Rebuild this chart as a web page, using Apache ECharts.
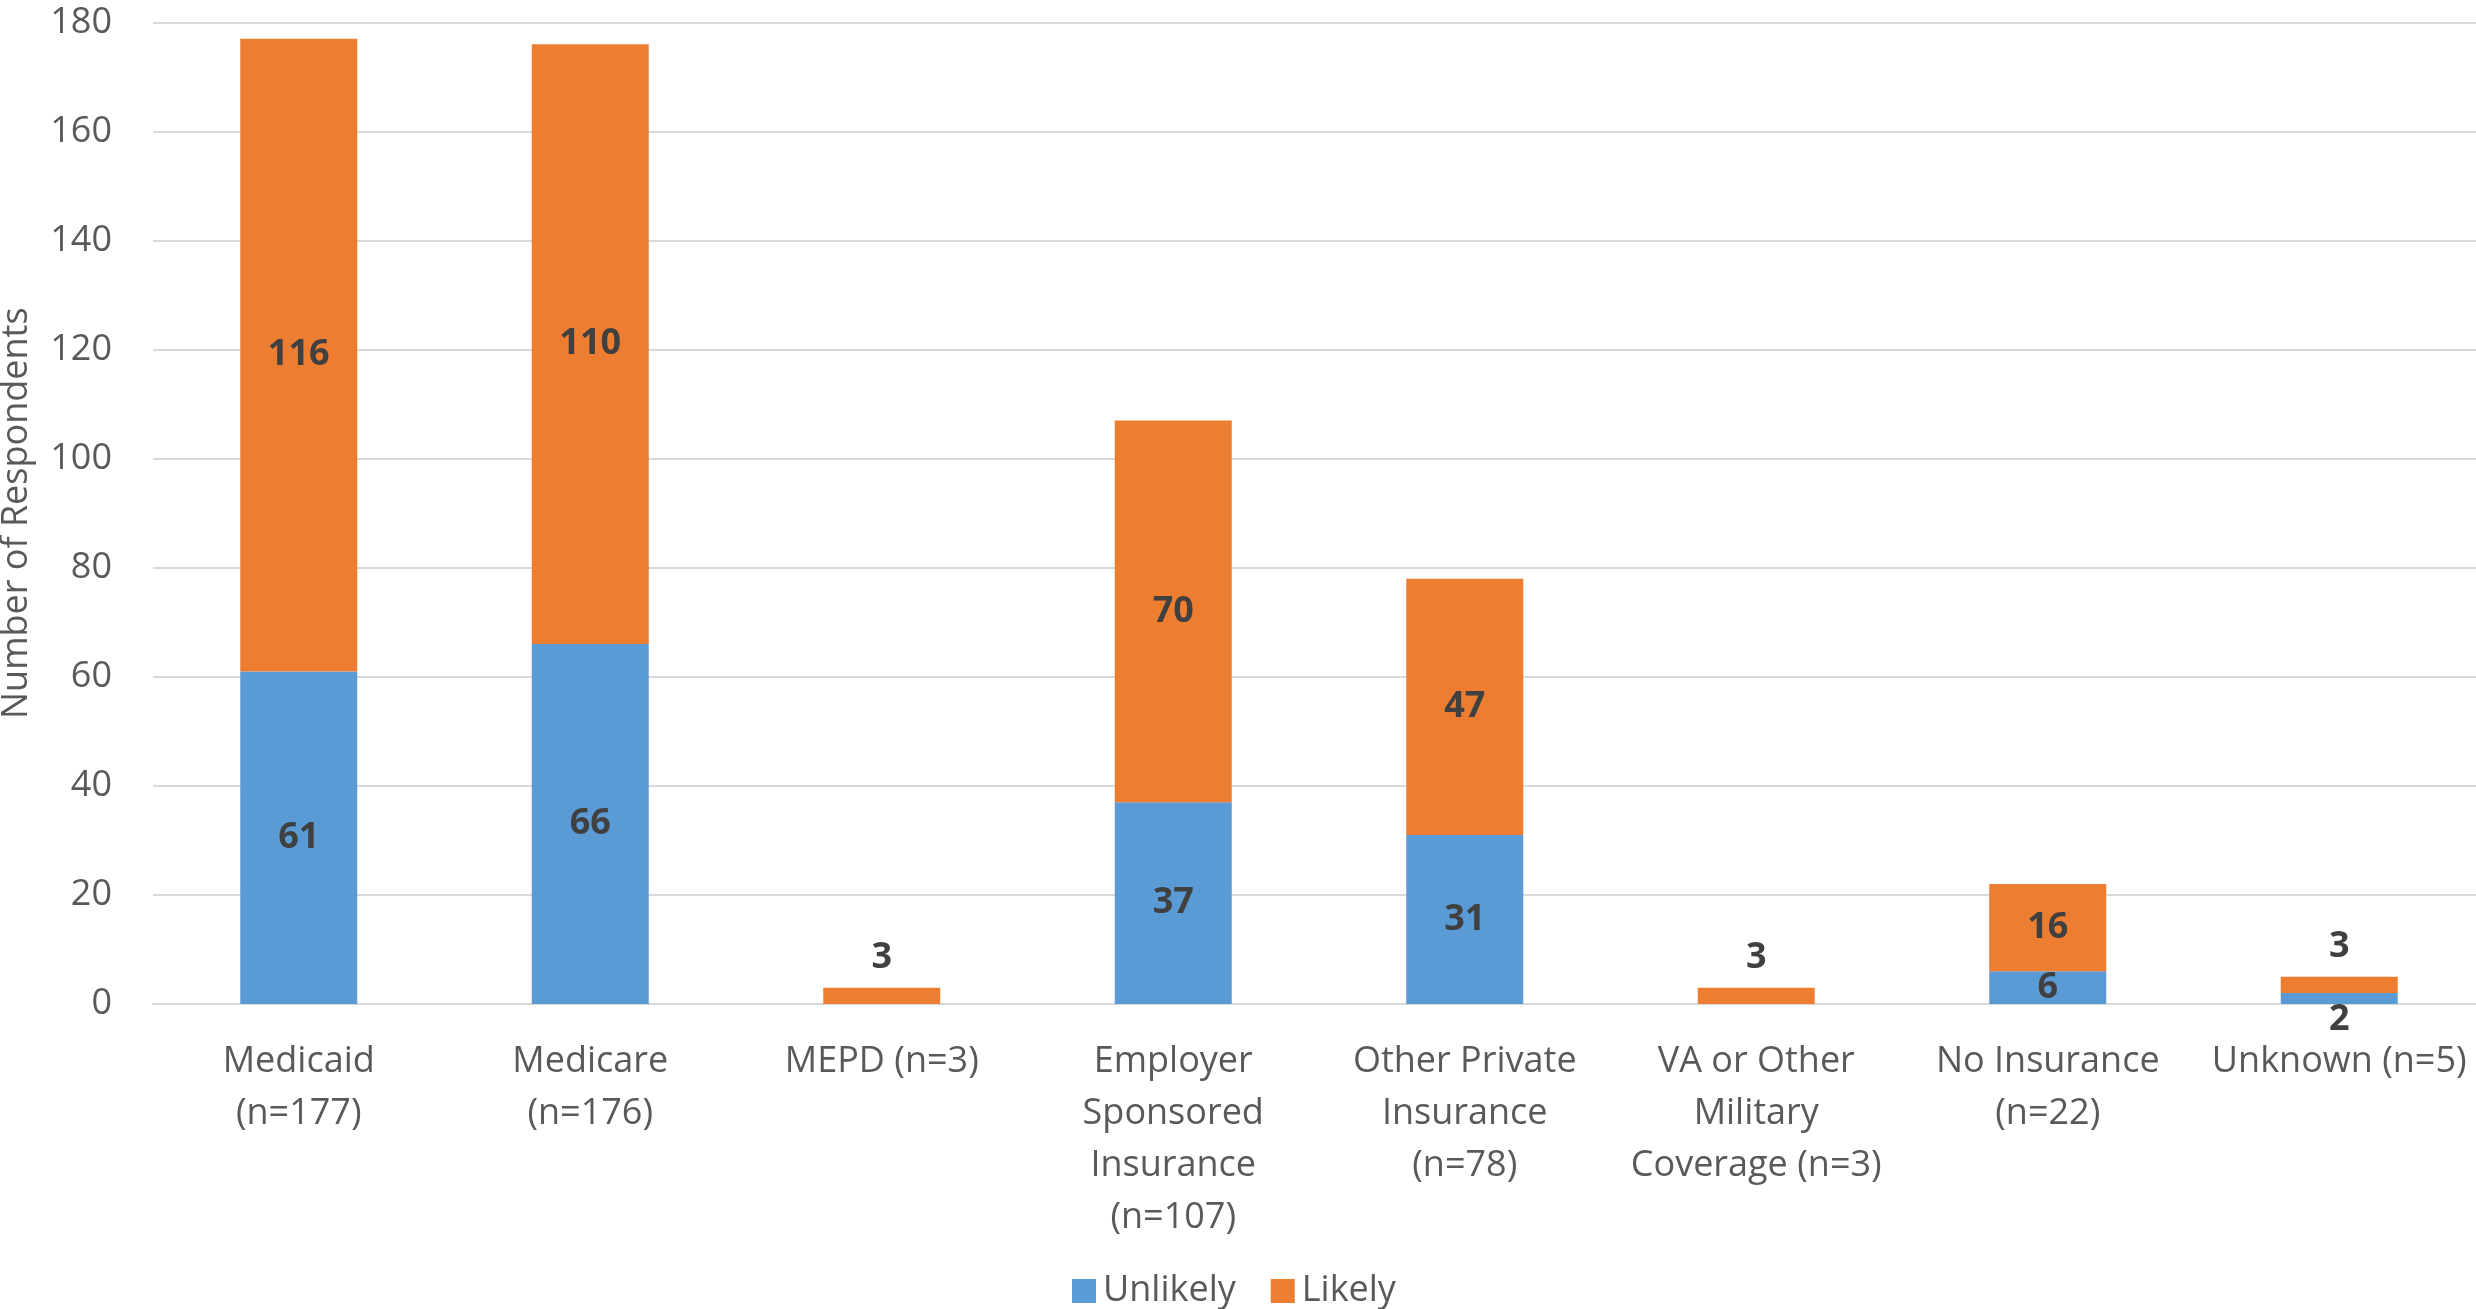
<!DOCTYPE html>
<html>
<head>
<meta charset="utf-8">
<script src="https://cdn.jsdelivr.net/npm/echarts@6/dist/echarts.min.js"></script>
<style>
html,body{margin:0;padding:0;background:#fff;}
#chart{width:2476px;height:1309px;}
</style>
</head>
<body>
<div id="chart"></div>
<script>
const categories = [
  "Medicaid\n(n=177)",
  "Medicare\n(n=176)",
  "MEPD (n=3)",
  "Employer\nSponsored\nInsurance\n(n=107)",
  "Other Private\nInsurance\n(n=78)",
  "VA or Other\nMilitary\nCoverage (n=3)",
  "No Insurance\n(n=22)",
  "Unknown (n=5)"
];
const unlikely = [61, 66, 0, 37, 31, 0, 6, 2];
const likely = [116, 110, 3, 70, 47, 3, 16, 3];
const yTicks = [0, 20, 40, 60, 80, 100, 120, 140, 160, 180];

const FONT = '"Open Sans", "Liberation Sans", sans-serif';
const labelBase = { fontFamily: FONT, fontSize: 36, fontWeight: 'bold', color: '#404040' };

function makeData(values, outsidePos, outsideDist) {
  return values.map(v => {
    if (v === 0) return { value: v, label: { show: false } };
    if (v <= 3) return { value: v, label: { show: true, position: outsidePos, distance: outsideDist } };
    return { value: v };
  });
}

const chart = echarts.init(document.getElementById('chart'));
chart.setOption({
  backgroundColor: '#ffffff',
  animation: false,
  grid: { left: 153, right: -9, top: 22.5, bottom: 305, containLabel: false, outerBoundsMode: 'none' },
  legend: {
    data: ['Unlikely', 'Likely'],
    left: 1072,
    top: 1273,
    padding: 0,
    icon: 'rect',
    itemWidth: 24,
    itemHeight: 24,
    itemGap: 35,
    textStyle: { fontFamily: FONT, fontSize: 36, color: '#595959', padding: [0, 0, 0, 2] }
  },
  xAxis: {
    type: 'category',
    data: categories,
    axisLine: { show: true, lineStyle: { color: '#d9d9d9', width: 2 } },
    axisTick: { show: false },
    axisLabel: {
      interval: 0,
      margin: 32,
      fontFamily: FONT,
      fontSize: 36,
      lineHeight: 52,
      color: '#595959',
      align: 'center'
    }
  },
  yAxis: {
    type: 'value',
    min: 0,
    max: 180,
    interval: 20,
    name: 'Number of Respondents',
    nameLocation: 'middle',
    nameGap: 118,
    nameTextStyle: { fontFamily: FONT, fontSize: 36, color: '#595959' },
    axisLine: { show: false },
    axisTick: { show: false },
    splitLine: { show: true, lineStyle: { color: '#d9d9d9', width: 2 } },
    axisLabel: {
      margin: 41,
      fontFamily: FONT,
      fontSize: 36,
      color: '#595959',
      formatter: v => yTicks.includes(v) ? String(v) : ''
    }
  },
  series: [
    {
      name: 'Unlikely',
      type: 'bar',
      stack: 'total',
      barWidth: 117,
      itemStyle: { color: '#5B9BD5' },
      label: Object.assign({ show: true, position: 'inside' }, labelBase),
      data: makeData(unlikely, 'bottom', -2)
    },
    {
      name: 'Likely',
      type: 'bar',
      stack: 'total',
      barWidth: 117,
      itemStyle: { color: '#ED7D31' },
      label: Object.assign({ show: true, position: 'inside' }, labelBase),
      data: makeData(likely, 'top', 12)
    }
  ]
});
</script>
</body>
</html>
